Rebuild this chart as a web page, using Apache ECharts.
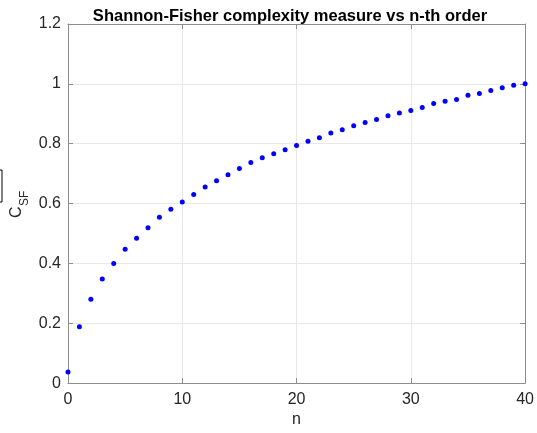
<!DOCTYPE html>
<html>
<head>
<meta charset="utf-8">
<script src="https://cdn.jsdelivr.net/npm/echarts@6/dist/echarts.min.js"></script>
<style>
  html, body { margin: 0; padding: 0; background: #fff; overflow: hidden; }
  #main { position: absolute; left: 0; top: 0; width: 537px; height: 433px; }
</style>
</head>
<body>
<div id="main"></div>
<script>
// n-th order and complexity values
var orders = [];
for (var k = 0; k <= 40; k++) orders.push(k);
var csf = [
    0.037, 0.188, 0.280, 0.348, 0.400, 0.447, 0.484, 0.519, 0.554, 0.581,
    0.605, 0.630, 0.655, 0.676, 0.696, 0.717, 0.737, 0.753, 0.766, 0.780,
    0.794, 0.808, 0.820, 0.836, 0.847, 0.860, 0.871, 0.881, 0.893, 0.903,
    0.911, 0.921, 0.934, 0.942, 0.948, 0.962, 0.968, 0.978, 0.987, 0.995,
    1.000
];
var xTicks = [0, 10, 20, 30, 40];
var yTicks = [0, 0.2, 0.4, 0.6, 0.8, 1, 1.2];

var myChart = echarts.init(document.getElementById('main'));

var points = [];
for (var i = 0; i < orders.length; i++) {
    points.push([orders[i], csf[i]]);
}

var axisGrey = '#8c8c8c';
var font = 'Liberation Sans, Arial, sans-serif';
var labelStyle = { color: '#262626', fontSize: 16, fontFamily: font };

var option = {
    animation: false,
    title: {
        text: 'Shannon-Fisher complexity measure vs n-th order',
        left: 285,
        top: 3,
        textAlign: 'center',
        textStyle: {
            fontSize: 16.5,
            fontWeight: 'bold',
            color: '#000',
            fontFamily: font
        }
    },
    grid: { left: 68, right: 9, top: 24, bottom: 46 },
    xAxis: [{
        type: 'value',
        min: xTicks[0],
        max: xTicks[xTicks.length - 1],
        interval: 10,
        name: 'n',
        nameLocation: 'middle',
        nameGap: 27,
        nameTextStyle: labelStyle,
        axisLine: { onZero: false, lineStyle: { color: axisGrey } },
        axisTick: { inside: true, length: 5, lineStyle: { color: axisGrey } },
        axisLabel: Object.assign({ margin: 8 }, labelStyle),
        splitLine: { lineStyle: { color: '#e8e8e8' } }
    }, {
        type: 'value',
        position: 'top',
        min: xTicks[0],
        max: xTicks[xTicks.length - 1],
        interval: 10,
        axisLine: { onZero: false, lineStyle: { color: axisGrey } },
        axisTick: { inside: true, length: 5, lineStyle: { color: axisGrey } },
        axisLabel: { show: false },
        splitLine: { show: false }
    }],
    yAxis: [{
        type: 'value',
        min: yTicks[0],
        max: yTicks[yTicks.length - 1],
        interval: 0.2,
        axisLine: { show: true, onZero: false, lineStyle: { color: axisGrey } },
        axisTick: { show: true, inside: true, length: 5, lineStyle: { color: axisGrey } },
        axisLabel: Object.assign({ margin: 7 }, labelStyle),
        splitLine: { lineStyle: { color: '#e8e8e8' } }
    }, {
        type: 'value',
        position: 'right',
        min: yTicks[0],
        max: yTicks[yTicks.length - 1],
        interval: 0.2,
        axisLine: { show: true, onZero: false, lineStyle: { color: axisGrey } },
        axisTick: { show: true, inside: true, length: 5, lineStyle: { color: axisGrey } },
        axisLabel: { show: false },
        splitLine: { show: false }
    }],
    graphic: [
        {
            type: 'group',
            x: 17,
            y: 218,
            rotation: Math.PI / 2,
            children: [
                {
                    type: 'text',
                    x: 0, y: 0,
                    style: {
                        text: 'C', fontSize: 16, fill: '#262626',
                        fontFamily: font,
                        textAlign: 'left', textVerticalAlign: 'middle'
                    }
                },
                {
                    type: 'text',
                    x: 12, y: 8,
                    style: {
                        text: 'SF', fontSize: 12, fill: '#262626',
                        fontFamily: font,
                        textAlign: 'left', textVerticalAlign: 'middle'
                    }
                }
            ]
        },
        {
            type: 'rect',
            shape: { x: -10, y: 170, width: 12, height: 32 },
            style: { fill: 'none', stroke: '#000', lineWidth: 1 }
        }
    ],
    series: [{
        name: 'C_SF',
        type: 'scatter',
        data: points,
        symbol: 'circle',
        symbolSize: 5,
        itemStyle: { color: '#0000ff', opacity: 1 }
    }]
};
myChart.setOption(option);
</script>
</body>
</html>
